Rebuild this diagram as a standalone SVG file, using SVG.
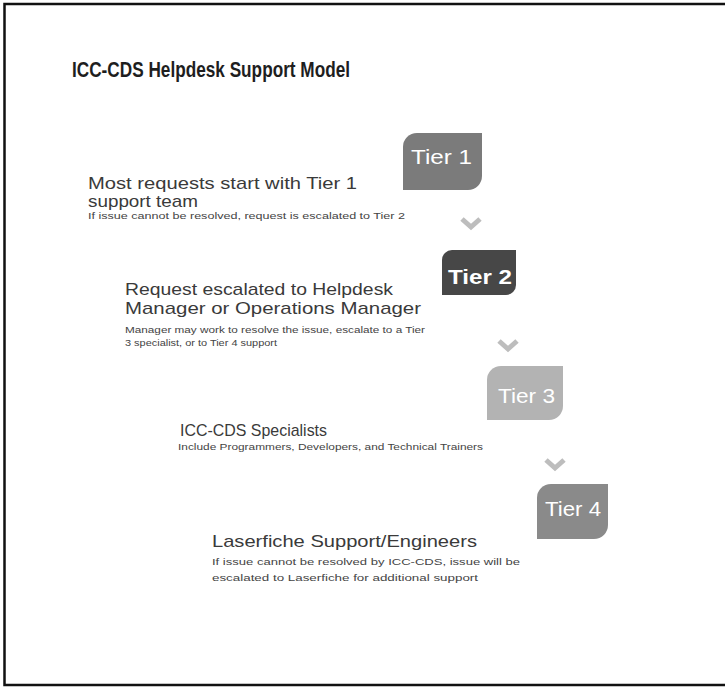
<svg xmlns="http://www.w3.org/2000/svg" width="725" height="687" viewBox="0 0 725 687">
<style>
text{font-family:"Liberation Sans",Arial,sans-serif}
.title{font-size:22px;font-weight:bold;fill:#1e1e1e}
.main{font-size:17px;fill:#3a3a3a}
.small{font-size:9.5px;fill:#444}
.tier{font-size:21px;fill:#ffffff;text-anchor:start}
.chev{fill:none;stroke:#bdbdbd;stroke-width:5;stroke-linejoin:miter}
</style>
<rect x="0" y="0" width="725" height="687" fill="#ffffff"/>
<polyline points="725,4 4.5,4 4.5,685 725,685" fill="none" stroke="#111" stroke-width="2.5"/>
<text class="title" x="72" y="77" textLength="278" lengthAdjust="spacingAndGlyphs">ICC-CDS Helpdesk Support Model</text>
<g id="connectors">
<polyline class="chev" points="462,219 471,227 480,219"/>
<polyline class="chev" points="499,341 508,349 517,341"/>
<polyline class="chev" points="546,460 555,468 564,460"/>
</g>
<g id="tier1">
<path d="M417,133 H482 V176 A14,14 0 0 1 468,190 H403 V147 A14,14 0 0 1 417,133 Z" fill="#7b7b7b"/>
<text class="tier" x="411" y="164" textLength="61" lengthAdjust="spacingAndGlyphs">Tier 1</text>
<text class="main" x="88" y="189" textLength="269" lengthAdjust="spacingAndGlyphs">Most requests start with Tier 1</text>
<text class="main" x="88" y="207" textLength="110" lengthAdjust="spacingAndGlyphs">support team</text>
<text class="small" x="88" y="219" textLength="317" lengthAdjust="spacingAndGlyphs">If issue cannot be resolved, request is escalated to Tier 2</text>
</g>
<g id="tier2">
<path d="M452,250 H516 V285 A10,10 0 0 1 506,295 H442 V260 A10,10 0 0 1 452,250 Z" fill="#474747"/>
<text class="tier" x="448" y="284" font-weight="bold" font-size="23" textLength="64" lengthAdjust="spacingAndGlyphs">Tier 2</text>
<text class="main" x="125" y="295" textLength="268" lengthAdjust="spacingAndGlyphs">Request escalated to Helpdesk</text>
<text class="main" x="125" y="314" textLength="296" lengthAdjust="spacingAndGlyphs">Manager or Operations Manager</text>
<text class="small" x="125" y="333" textLength="300" lengthAdjust="spacingAndGlyphs">Manager may work to resolve the issue, escalate to a Tier</text>
<text class="small" x="125" y="346" textLength="152" lengthAdjust="spacingAndGlyphs">3 specialist, or to Tier 4 support</text>
</g>
<g id="tier3">
<path d="M501,366 H563 V406 A14,14 0 0 1 549,420 H487 V380 A14,14 0 0 1 501,366 Z" fill="#b3b3b3"/>
<text class="tier" x="498" y="403" textLength="57" lengthAdjust="spacingAndGlyphs">Tier 3</text>
<text class="main" x="180" y="436" textLength="147" lengthAdjust="spacingAndGlyphs">ICC-CDS Specialists</text>
<text class="small" x="178" y="450" textLength="305" lengthAdjust="spacingAndGlyphs">Include Programmers, Developers, and Technical Trainers</text>
</g>
<g id="tier4">
<path d="M551,484 H608 V525 A14,14 0 0 1 594,539 H537 V498 A14,14 0 0 1 551,484 Z" fill="#8a8a8a"/>
<text class="tier" x="545" y="516" textLength="56" lengthAdjust="spacingAndGlyphs">Tier 4</text>
<text class="main" x="212" y="547" textLength="265" lengthAdjust="spacingAndGlyphs">Laserfiche Support/Engineers</text>
<text class="small" x="212" y="565" textLength="308" lengthAdjust="spacingAndGlyphs">If issue cannot be resolved by ICC-CDS, issue will be</text>
<text class="small" x="212" y="581" textLength="266" lengthAdjust="spacingAndGlyphs">escalated to Laserfiche for additional support</text>
</g>
</svg>
